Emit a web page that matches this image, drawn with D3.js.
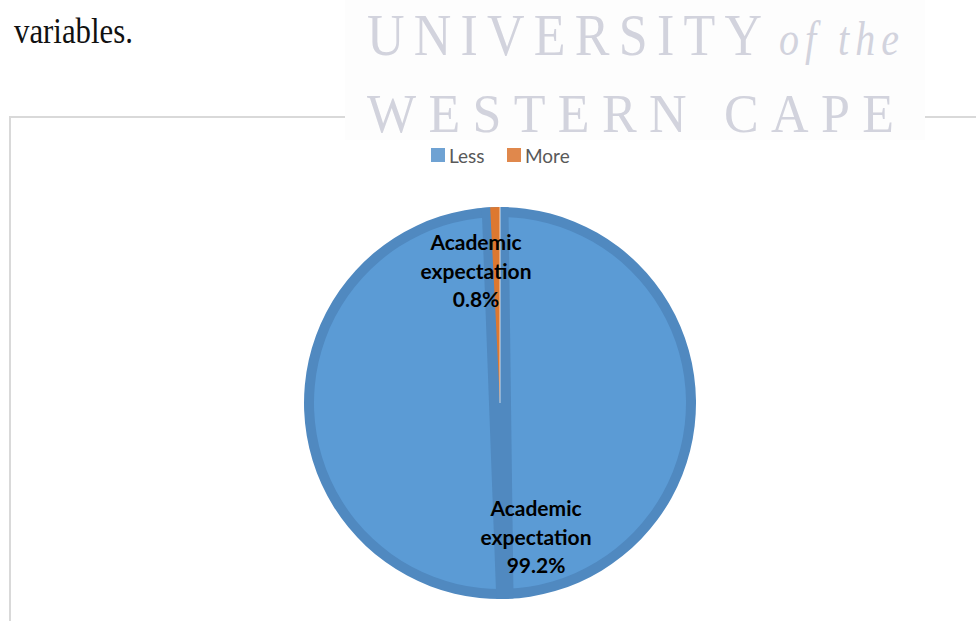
<!DOCTYPE html>
<html lang="en">
<head>
    <meta charset="UTF-8">
    <title>Academic expectation</title>
    <script src="https://d3js.org/d3.v7.min.js"></script>
    <style>
        body { margin: 0; background: #fff; }
        svg { display: block; }
    </style>
</head>
<body>
    <div id="chart"></div>
    <script>
        // data
        const categories = ["Less", "More"];
        const values = [99.2, 0.8];
        const labelLines = ["Academic", "expectation"];

        const width = 976;
        const height = 621;
        const cx = 500, cy = 403, R = 196, ring = 10;

        const colors = d3.scaleOrdinal().domain(categories).range(["#5b9bd5", "#dd7830"]);
        const darkBlue = "#5089c0";
        const legendColors = d3.scaleOrdinal().domain(categories).range(["#6fa2d3", "#e0884c"]);

        const svg = d3.select("#chart").append("svg")
            .attr("width", width)
            .attr("height", height);

        // page text above the chart (the scan is a bit stretched vertically)
        svg.append("text")
            .attr("transform", "translate(14,43) scale(1,1.18)")
            .attr("font-family", "Liberation Serif, serif")
            .attr("font-size", 30)
            .attr("textLength", 119)
            .attr("lengthAdjust", "spacingAndGlyphs")
            .attr("fill", "#111")
            .text("variables.");

        // chart frame
        svg.append("rect")
            .attr("x", 10).attr("y", 117)
            .attr("width", 1000).attr("height", 600)
            .attr("fill", "none")
            .attr("stroke", "#d9d9d9")
            .attr("stroke-width", 2);

        // watermark
        svg.append("rect")
            .attr("x", 345).attr("y", 0).attr("width", 580).attr("height", 140)
            .attr("fill", "#fdfdfd");
        const wm = svg.append("g")
            .attr("font-family", "Liberation Serif, serif")
            .attr("fill", "#d2d3dd");
        wm.append("text")
            .attr("transform", "translate(367,55) scale(1,1.15)")
            .attr("font-size", 52)
            .attr("textLength", 395)
            .attr("lengthAdjust", "spacing")
            .text("UNIVERSITY");
        wm.append("text")
            .attr("transform", "translate(779,55) scale(1,1.2)")
            .attr("font-size", 40)
            .attr("font-style", "italic")
            .attr("textLength", 120)
            .attr("lengthAdjust", "spacing")
            .text("of the");
        wm.append("text")
            .attr("transform", "translate(367,132) scale(1,1.05)")
            .attr("font-size", 52)
            .attr("textLength", 527)
            .attr("lengthAdjust", "spacing")
            .text("WESTERN CAPE");

        // legend
        const legend = svg.append("g")
            .attr("font-family", "Lato, sans-serif")
            .attr("font-size", 19)
            .attr("fill", "#595959");
        const legendX = [431, 507];
        categories.forEach((c, i) => {
            legend.append("rect")
                .attr("x", legendX[i]).attr("y", 148)
                .attr("width", 14).attr("height", 14)
                .attr("fill", legendColors(c));
            legend.append("text")
                .attr("x", legendX[i] + 18).attr("y", 163)
                .text(c);
        });

        // pie
        const pie = d3.pie().sort(null).value(d => d.value);
        const arcs = pie(categories.map((c, i) => ({ name: c, value: values[i] })));
        const arc = d3.arc().innerRadius(0).outerRadius(R);
        const innerArc = d3.arc().innerRadius(0).outerRadius(R - ring);

        const g = svg.append("g").attr("transform", `translate(${cx},${cy})`);

        svg.append("clipPath").attr("id", "pieClip")
            .append("circle").attr("r", R);

        // big slice: dark bevel ring, light face
        const big = arcs[0];
        g.append("path").attr("d", arc(big)).attr("fill", darkBlue);
        g.append("path").attr("d", innerArc(big)).attr("fill", colors(big.data.name));

        // bevel strip running through the centre along the small slice
        const small = arcs[1];
        const mid = (small.startAngle + small.endAngle) / 2;
        const dir = d3.pointRadial(mid, 1);   // points outwards (up)
        const nrm = [-dir[1], dir[0]];
        const toXY = (t, w) => [dir[0] * t + nrm[0] * w, dir[1] * t + nrm[1] * w];
        const strip = [
            toXY(R * 1.05, -13.5), toXY(R * 1.05, 13.5),
            toXY(-R * 1.05, 8.5), toXY(-R * 1.05, -8.5)
        ];
        g.append("path")
            .attr("d", d3.line()(strip) + "Z")
            .attr("fill", darkBlue)
            .attr("clip-path", "url(#pieClip)");

        // small slice
        g.append("path").attr("d", arc(small)).attr("fill", colors(small.data.name));
        const edge = d3.pointRadial(small.endAngle, R);
        g.append("line")
            .attr("x1", 0).attr("y1", 0)
            .attr("x2", edge[0]).attr("y2", edge[1])
            .attr("stroke", "#fff").attr("stroke-opacity", 0.7).attr("stroke-width", 1);

        // labels
        const labelPos = [[36, 106], [-24, -160]];
        const labels = g.append("g")
            .attr("font-family", "Lato, sans-serif")
            .attr("font-weight", "bold")
            .attr("font-size", 21)
            .attr("fill", "#000")
            .attr("text-anchor", "middle");
        arcs.forEach((a, i) => {
            const lines = labelLines.concat([d3.format(".1f")(a.data.value) + "%"]);
            lines.forEach((t, j) => {
                labels.append("text")
                    .attr("x", labelPos[i][0])
                    .attr("y", labelPos[i][1] + j * 28.5 + 7)
                    .text(t);
            });
        });
    </script>
</body>
</html>
